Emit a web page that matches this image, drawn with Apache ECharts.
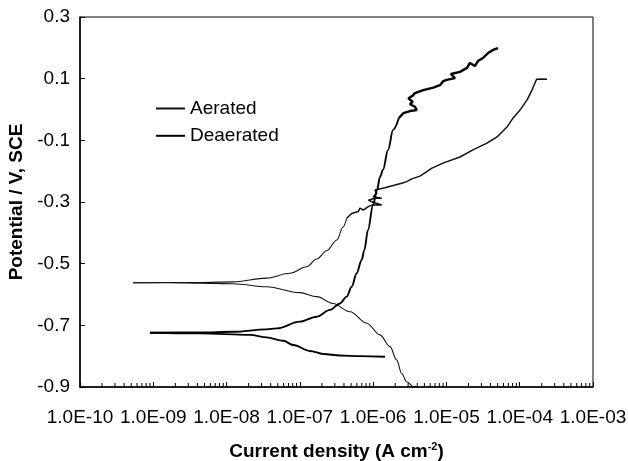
<!DOCTYPE html>
<html>
<head>
<meta charset="utf-8">
<script src="https://cdn.jsdelivr.net/npm/echarts@6/dist/echarts.min.js"></script>
<style>
  html, body { margin: 0; padding: 0; background: #fff; }
  #chart { width: 628px; height: 461px; }
</style>
</head>
<body>
<div id="chart"></div>
<script>
// Potentiodynamic polarization curves, aerated vs deaerated solution.
// x: current density (A cm^-2, log scale), y: potential (V vs SCE).
// Each curve is stored by branch, starting at the corrosion potential.

// --- Aerated ---
const aeratedCathodicI = [5.3e-10, 1.5e-9, 4.33e-9, 1.22e-8, 3.52e-8, 1.0e-7, 1.7e-7, 2.83e-7, 4.83e-7, 8.17e-7, 1.24e-6, 1.7e-6, 2.09e-6, 2.45e-6, 2.87e-6, 3.53e-6, 4.09e-6];
const aeratedCathodicE = [-0.562, -0.562, -0.563, -0.565, -0.575, -0.594, -0.607, -0.629, -0.656, -0.693, -0.731, -0.769, -0.812, -0.856, -0.883, -0.899, -0.900];

const aeratedAnodicLowI = [5.3e-10, 1.5e-9, 4.33e-9, 1.22e-8, 3.52e-8, 7.33e-8, 1.24e-7, 1.7e-7, 2.32e-7, 3.21e-7, 3.88e-7, 4.36e-7];
const aeratedAnodicLowE = [-0.562, -0.561, -0.561, -0.559, -0.547, -0.531, -0.510, -0.485, -0.458, -0.423, -0.381, -0.353];

const aeratedAnodicHighI = [4.36e-7, 5.09e-7, 6.27e-7, 6.61e-7, 7.34e-7, 8.59e-7, 9.55e-7, 1.31e-6, 1.0e-6, 8.59e-7, 1.06e-6, 1.31e-6, 1.0e-6, 1.12e-6, 1.06e-6, 1.45e-6, 1.99e-6, 2.45e-6, 2.87e-6, 3.36e-6, 4.35e-6, 6.35e-6, 8.97e-6, 1.53e-5, 2.3e-5, 3.57e-5, 4.9e-5, 6.7e-5, 8.09e-5, 1.01e-4, 1.26e-4, 1.47e-4, 1.7e-4, 2.0e-4, 2.36e-4];
const aeratedAnodicHighE = [-0.353, -0.337, -0.331, -0.320, -0.326, -0.315, -0.310, -0.310, -0.301, -0.294, -0.288, -0.288, -0.283, -0.272, -0.261, -0.254, -0.245, -0.239, -0.234, -0.225, -0.216, -0.190, -0.174, -0.154, -0.131, -0.109, -0.089, -0.057, -0.028, -0.002, 0.031, 0.063, 0.098, 0.099, 0.098];

// --- Deaerated ---
const deaeratedCathodicI = [9.0e-10, 4.33e-9, 2.09e-8, 3.52e-8, 5.94e-8, 8.13e-8, 1.37e-7, 2.09e-7, 3.53e-7, 6.61e-7, 1.45e-6];
const deaeratedCathodicE = [-0.724, -0.726, -0.731, -0.739, -0.750, -0.764, -0.783, -0.793, -0.798, -0.800, -0.802];

const deaeratedAnodicLowI = [9.0e-10, 4.33e-9, 1.22e-8, 3.52e-8, 4.83e-8, 1.0e-7, 1.7e-7, 2.58e-7, 3.53e-7, 4.36e-7, 5.09e-7, 5.96e-7, 6.98e-7, 7.57e-7, 8.51e-7, 9.95e-7, 1.13e-6, 1.24e-6, 1.36e-6, 1.6e-6, 1.87e-6, 2.25e-6];
const deaeratedAnodicLowE = [-0.724, -0.723, -0.721, -0.713, -0.710, -0.688, -0.672, -0.650, -0.629, -0.607, -0.575, -0.531, -0.488, -0.456, -0.391, -0.310, -0.261, -0.219, -0.196, -0.131, -0.066, -0.027];

const deaeratedAnodicHighI = [2.25e-6, 2.58e-6, 3.18e-6, 3.93e-6, 3.72e-6, 3.18e-6, 3.46e-6, 3.02e-6, 3.46e-6, 3.72e-6, 4.83e-6, 6.62e-6, 8.17e-6, 9.06e-6, 1.01e-5, 1.31e-5, 1.15e-5, 1.53e-5, 1.91e-5, 2.09e-5, 2.45e-5, 2.69e-5, 3.15e-5, 3.69e-5, 4.32e-5, 5.05e-5];
const deaeratedAnodicHighE = [-0.027, -0.012, -0.005, -0.002, 0.009, 0.017, 0.025, 0.036, 0.045, 0.053, 0.063, 0.071, 0.079, 0.092, 0.096, 0.102, 0.115, 0.122, 0.135, 0.151, 0.141, 0.157, 0.167, 0.183, 0.193, 0.199];

// --- Axes ---
const xTickLabels = ['1.0E-10', '1.0E-09', '1.0E-08', '1.0E-07', '1.0E-06', '1.0E-05', '1.0E-04', '1.0E-03'];
const xMinExp = -10;
const xMaxExp = -3;
const yMin = -0.9;
const yMax = 0.3;
const yStep = 0.2;

// minor tick positions 2..9 x 10^n inside each decade
const minorTicks = [];
for (let e = xMinExp; e < xMaxExp; e++) {
  for (let k = 2; k <= 9; k++) minorTicks.push([k * Math.pow(10, e), yMin]);
}

const zip = (xs, ys) => xs.map((x, i) => [x, ys[i]]);

const FONT = '"Liberation Sans", Arial, Helvetica, sans-serif';
const AERATED_STYLE = { color: '#111', width: 1.1 };
const AERATED_NOISY_STYLE = { color: '#111', width: 1.5 };
const DEAERATED_STYLE = { color: '#000', width: 1.9 };
const DEAERATED_NOISY_STYLE = { color: '#000', width: 2.4 };

function branch(name, xs, ys, style, smooth) {
  return {
    name, type: 'line', data: zip(xs, ys),
    symbol: 'none', showSymbol: false,
    smooth: smooth ? 0.35 : false,
    smoothMonotone: smooth ? 'x' : undefined,
    lineStyle: style, itemStyle: { color: style.color },
    z: name === 'Deaerated' ? 5 : 4
  };
}

const chart = echarts.init(document.getElementById('chart'), null, { renderer: 'canvas' });

chart.setOption({
  animation: false,
  backgroundColor: '#fff',
  grid: {
    left: 80, right: 35, top: 17, bottom: 74,
    outerBoundsMode: 'none',
    containLabel: false,
    show: true, borderColor: '#000', borderWidth: 1, backgroundColor: 'transparent'
  },
  legend: {
    data: ['Aerated', 'Deaerated'],
    orient: 'vertical',
    left: 150, top: 94,
    itemWidth: 29, itemHeight: 19, itemGap: 8.3,
    selectedMode: false,
    itemStyle: { opacity: 0 },
    textStyle: { fontFamily: FONT, fontSize: 19, color: '#000', lineHeight: 19 }
  },
  xAxis: {
    type: 'log', logBase: 10,
    min: Math.pow(10, xMinExp), max: Math.pow(10, xMaxExp),
    name: 'Current density (A cm{sup|-2})',
    nameLocation: 'middle', nameGap: 54,
    nameTextStyle: {
      fontFamily: FONT, fontSize: 19, fontWeight: 'bold', color: '#000',
      rich: {
        sup: { fontFamily: FONT, fontSize: 11, fontWeight: 'bold', color: '#000', verticalAlign: 'top', padding: [0, 0, 10, 0] }
      }
    },
    axisLine: { show: true, onZero: false, lineStyle: { color: '#000', width: 1.5 } },
    axisTick: { show: true, inside: true, length: 5, lineStyle: { color: '#000', width: 1 } },
    axisLabel: {
      fontFamily: FONT, fontSize: 19, color: '#000', margin: 21,
      formatter: v => xTickLabels[Math.round(Math.log10(v)) - xMinExp]
    },
    splitLine: { show: false }
  },
  yAxis: {
    type: 'value', min: yMin, max: yMax, interval: yStep,
    name: 'Potential / V, SCE',
    nameLocation: 'middle', nameGap: 52, nameRotate: 90,
    nameTextStyle: { fontFamily: FONT, fontSize: 19, fontWeight: 'bold', color: '#000' },
    axisLine: { show: true, onZero: false, lineStyle: { color: '#000', width: 1.5 } },
    axisTick: { show: true, inside: true, length: 5, lineStyle: { color: '#000', width: 1 } },
    axisLabel: {
      fontFamily: FONT, fontSize: 19, color: '#000', margin: 10,
      formatter: v => v.toFixed(1)
    },
    splitLine: { show: false }
  },
  series: [
    branch('Aerated', aeratedCathodicI, aeratedCathodicE, AERATED_STYLE, true),
    branch('Aerated', aeratedAnodicLowI, aeratedAnodicLowE, AERATED_STYLE, true),
    branch('Aerated', aeratedAnodicHighI, aeratedAnodicHighE, AERATED_NOISY_STYLE, false),
    branch('Deaerated', deaeratedCathodicI, deaeratedCathodicE, DEAERATED_STYLE, true),
    branch('Deaerated', deaeratedAnodicLowI, deaeratedAnodicLowE, DEAERATED_STYLE, true),
    branch('Deaerated', deaeratedAnodicHighI, deaeratedAnodicHighE, DEAERATED_NOISY_STYLE, false),
    {
      name: 'minor-ticks', type: 'custom', silent: true, z: 6,
      data: minorTicks,
      encode: { x: 0, y: 1 },
      renderItem: (params, api) => {
        const p = api.coord([api.value(0), api.value(1)]);
        return {
          type: 'line',
          shape: { x1: p[0], y1: p[1], x2: p[0], y2: p[1] - 4 },
          style: { stroke: '#000', lineWidth: 1 }
        };
      }
    }
  ]
});
</script>
</body>
</html>
